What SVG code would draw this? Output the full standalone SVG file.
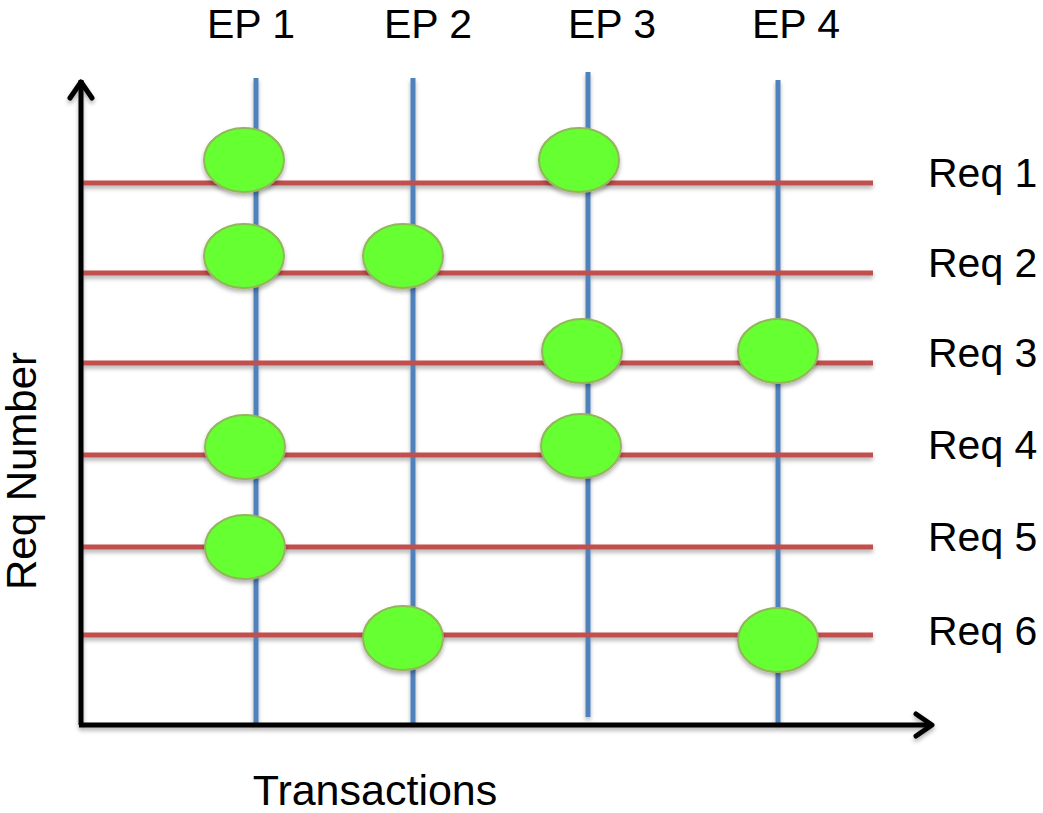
<svg xmlns="http://www.w3.org/2000/svg" width="1043" height="813" viewBox="0 0 1043 813">
<style>
.t{font-family:"Liberation Sans",Arial,sans-serif;font-size:41px;fill:#000}
.ep{stroke:#4f81bd;stroke-width:5;fill:none}
.req{stroke:#c0504d;stroke-width:5;fill:none}
.dot{fill:#66ff33;stroke:#93b65a;stroke-width:2}
.ax{stroke:#000;stroke-width:5;fill:none}
</style>
<defs>
<filter id="sh" x="-20%" y="-20%" width="140%" height="160%">
<feDropShadow dx="0" dy="3" stdDeviation="2" flood-color="#000" flood-opacity="0.3"/>
</filter>
</defs>
<g id="connectors" filter="url(#sh)">
<g id="ep-lines">
<line class="ep" x1="256" y1="78" x2="256" y2="725"/>
<line class="ep" x1="413" y1="78" x2="413" y2="725"/>
<line class="ep" x1="588" y1="72" x2="588" y2="717"/>
<line class="ep" x1="778" y1="80" x2="778" y2="725"/>
</g>
<g id="req-lines">
<line class="req" x1="82" y1="183" x2="873" y2="183"/>
<line class="req" x1="82" y1="273" x2="873" y2="273"/>
<line class="req" x1="82" y1="363" x2="873" y2="363"/>
<line class="req" x1="82" y1="455" x2="873" y2="455"/>
<line class="req" x1="82" y1="547" x2="873" y2="547"/>
<line class="req" x1="82" y1="635" x2="873" y2="635"/>
</g>
<g id="axes">
<path class="ax" d="M81 725 V80"/>
<path class="ax" d="M70 98 L81 82 L92 98" stroke-linecap="round" stroke-linejoin="round"/>
<path class="ax" d="M79 725 H932"/>
<path class="ax" d="M916 714 L932 725 L916 736" stroke-linecap="round" stroke-linejoin="round"/>
</g>
</g>
<g id="dots" filter="url(#sh)">
<ellipse id="r1e1" class="dot" cx="244" cy="160" rx="40" ry="32"/>
<ellipse id="r1e3" class="dot" cx="579" cy="160" rx="40" ry="32"/>
<ellipse id="r2e1" class="dot" cx="244" cy="256" rx="40" ry="32"/>
<ellipse id="r2e2" class="dot" cx="403" cy="256" rx="40" ry="32"/>
<ellipse id="r3e3" class="dot" cx="582" cy="351" rx="40" ry="32"/>
<ellipse id="r3e4" class="dot" cx="778" cy="351" rx="40" ry="32"/>
<ellipse id="r4e1" class="dot" cx="245" cy="447" rx="40" ry="32"/>
<ellipse id="r4e3" class="dot" cx="581" cy="446" rx="40" ry="32"/>
<ellipse id="r5e1" class="dot" cx="245" cy="547" rx="40" ry="32"/>
<ellipse id="r6e2" class="dot" cx="403" cy="638" rx="40" ry="32"/>
<ellipse id="r6e4" class="dot" cx="778" cy="640" rx="40" ry="32"/>
</g>
<g id="labels">
<text class="t" x="251" y="38" text-anchor="middle">EP 1</text>
<text class="t" x="428" y="38" text-anchor="middle">EP 2</text>
<text class="t" x="612" y="38" text-anchor="middle">EP 3</text>
<text class="t" x="796" y="38" text-anchor="middle">EP 4</text>
<text class="t" x="928" y="187">Req 1</text>
<text class="t" x="928" y="277">Req 2</text>
<text class="t" x="928" y="367">Req 3</text>
<text class="t" x="928" y="459">Req 4</text>
<text class="t" x="928" y="551">Req 5</text>
<text class="t" x="928" y="645">Req 6</text>
<text class="t" x="375" y="805" text-anchor="middle" style="font-size:43px">Transactions</text>
<text class="t" transform="translate(36 471) rotate(-90)" text-anchor="middle" style="font-size:42px">Req Number</text>
</g>
</svg>
